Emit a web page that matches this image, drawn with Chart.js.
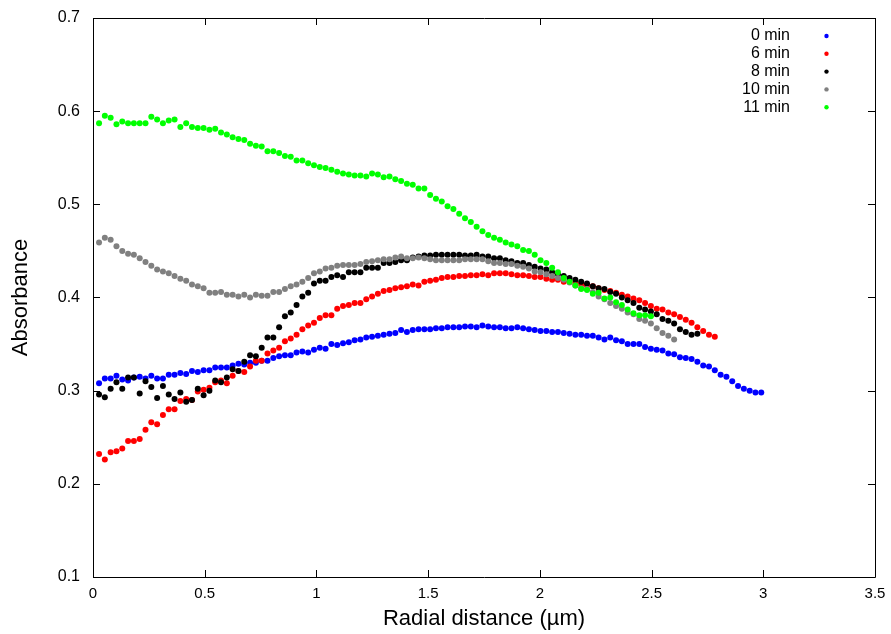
<!DOCTYPE html>
<html>
<head>
<meta charset="utf-8">
<script src="https://cdn.jsdelivr.net/npm/chart.js@4"></script>
<style>
html,body{margin:0;padding:0;background:#fff;}
#wrap{width:891px;height:634px;position:relative;}
</style>
</head>
<body>
<div id="wrap"><canvas id="c" width="891" height="634"></canvas></div>
<script>
// Radial distance sample positions (µm)
const radialDistance = [0.027,0.053,0.079,0.105,0.131,0.157,0.183,0.209,0.235,0.261,0.287,0.313,0.339,0.365,0.391,0.417,0.443,0.469,0.495,0.521,0.547,0.573,0.599,0.625,0.651,0.677,0.703,0.729,0.755,0.781,0.807,0.833,0.859,0.885,0.911,0.937,0.963,0.989,1.015,1.041,1.067,1.093,1.119,1.145,1.171,1.197,1.223,1.249,1.275,1.301,1.327,1.353,1.379,1.405,1.431,1.457,1.483,1.509,1.535,1.561,1.587,1.613,1.639,1.665,1.691,1.717,1.743,1.769,1.795,1.821,1.847,1.873,1.899,1.925,1.951,1.977,2.003,2.029,2.055,2.081,2.107,2.133,2.159,2.185,2.211,2.237,2.263,2.289,2.315,2.341,2.367,2.393,2.419,2.445,2.471,2.497,2.523,2.549,2.575,2.601,2.627,2.653,2.679,2.705,2.731,2.757,2.783,2.809,2.835,2.861,2.887,2.913,2.939,2.965,2.991];

const min0 = [0.308,0.313,0.313,0.316,0.312,0.311,0.314,0.315,0.313,0.316,0.313,0.313,0.317,0.317,0.319,0.318,0.321,0.320,0.322,0.322,0.325,0.325,0.325,0.327,0.329,0.328,0.330,0.330,0.332,0.332,0.335,0.337,0.338,0.338,0.341,0.342,0.341,0.344,0.346,0.345,0.350,0.349,0.351,
0.352,0.354,0.355,0.357,0.358,0.359,0.360,0.361,0.362,0.365,0.363,0.365,0.366,0.366,0.366,0.367,0.367,0.368,0.368,0.368,0.369,0.369,0.368,0.370,0.369,0.368,0.368,0.367,0.367,0.368,0.367,0.366,0.365,0.364,0.364,0.363,0.363,0.362,0.361,0.360,0.360,
0.359,0.359,0.357,0.355,0.357,0.354,0.353,0.350,0.350,0.350,0.347,0.345,0.344,0.343,0.340,0.339,0.336,0.335,0.334,0.331,0.327,0.326,0.322,0.317,0.315,0.310,0.305,0.302,0.300,0.298,0.298];

const min6 = [0.232,0.226,0.234,0.235,0.238,0.246,0.246,0.248,0.258,0.266,0.264,0.274,0.280,0.280,0.289,0.291,0.290,0.299,0.301,0.303,0.309,0.311,0.308,0.316,0.321,0.320,0.326,0.332,0.332,0.340,0.343,0.346,0.353,0.356,0.360,0.366,0.370,0.373,0.378,0.381,0.381,0.388,0.391,
0.392,0.394,0.394,0.398,0.401,0.404,0.407,0.408,0.410,0.411,0.412,0.414,0.413,0.417,0.418,0.419,0.421,0.422,0.422,0.423,0.423,0.424,0.424,0.425,0.424,0.426,0.426,0.426,0.425,0.424,0.424,0.423,0.422,0.422,0.420,0.419,0.419,0.417,0.417,0.415,0.414,0.413,0.412,
0.410,0.408,0.407,0.405,0.403,0.401,0.399,0.397,0.394,0.391,0.388,0.387,0.384,0.382,0.379,0.376,0.373,0.368,0.364,0.360,0.358];

const min8 = [0.296,0.293,0.302,0.309,0.302,0.314,0.314,0.297,0.310,0.304,0.292,0.305,0.296,0.291,0.298,0.288,0.290,0.302,0.295,0.300,0.311,0.309,0.314,0.323,0.321,0.331,0.338,0.337,0.346,0.357,0.357,0.368,0.380,0.384,0.392,0.401,0.405,0.415,0.418,0.418,0.422,0.424,0.422,
0.427,0.427,0.427,0.432,0.432,0.432,0.437,0.437,0.438,0.440,0.440,0.443,0.444,0.445,0.445,0.446,0.446,0.446,0.446,0.446,0.445,0.445,0.446,0.444,0.444,0.442,0.442,0.440,0.439,0.437,0.437,0.435,0.433,0.431,0.430,0.427,0.425,0.423,0.421,0.419,0.417,0.415,0.412,
0.410,0.409,0.406,0.404,0.400,0.397,0.394,0.389,0.387,0.385,0.382,0.377,0.375,0.372,0.366,0.363,0.360,0.361];

const min10 = [0.459,0.464,0.462,0.455,0.450,0.447,0.446,0.442,0.438,0.434,0.430,0.428,0.426,0.423,0.420,0.418,0.414,0.412,0.410,0.405,0.405,0.406,0.403,0.403,0.401,0.403,0.400,0.403,0.402,0.402,0.406,0.406,0.409,0.412,0.414,0.417,0.421,0.426,0.428,0.431,0.432,0.434,0.435,
0.435,0.435,0.436,0.438,0.439,0.440,0.441,0.441,0.443,0.444,0.442,0.442,0.443,0.442,0.441,0.440,0.440,0.440,0.440,0.440,0.441,0.441,0.441,0.441,0.439,0.437,0.437,0.436,0.436,0.434,0.433,0.431,0.428,0.427,0.425,0.423,0.421,0.419,0.416,0.413,0.410,0.409,0.406,
0.401,0.398,0.394,0.391,0.388,0.384,0.382,0.377,0.375,0.372,0.367,0.362,0.359,0.355];

const min11 = [0.587,0.595,0.593,0.586,0.589,0.587,0.587,0.587,0.587,0.594,0.591,0.587,0.590,0.591,0.583,0.587,0.583,0.582,0.582,0.580,0.581,0.577,0.575,0.572,0.570,0.569,0.565,0.563,0.562,0.557,0.557,0.555,0.552,0.551,0.547,0.547,0.544,0.542,0.540,0.539,0.537,0.535,0.533,
0.532,0.531,0.531,0.530,0.533,0.532,0.529,0.530,0.527,0.525,0.522,0.521,0.517,0.517,0.510,0.506,0.503,0.498,0.495,0.490,0.485,0.481,0.476,0.471,0.467,0.464,0.462,0.459,0.457,0.455,0.451,0.450,0.446,0.440,0.437,0.432,0.427,0.421,0.417,0.413,0.409,0.408,0.404,
0.405,0.399,0.400,0.395,0.392,0.387,0.383,0.381,0.381,0.380];

const seriesLabels = ['0 min','6 min','8 min','10 min','11 min'];
const seriesValues = [min0, min6, min8, min10, min11];
const seriesColors = ['#0000ff','#ff0000','#000000','#808080','#00ff00'];
const xTicks = [0,0.5,1,1.5,2,2.5,3,3.5];
const xTickLabels = ['0','0.5','1','1.5','2','2.5','3','3.5'];
const yTicks = [0.1,0.2,0.3,0.4,0.5,0.6,0.7];
const yTickLabels = ['0.1','0.2','0.3','0.4','0.5','0.6','0.7'];

Chart.defaults.font.family = "'Liberation Sans', Arial, sans-serif";
Chart.defaults.color = '#000';

// later series drawn on top (lower order is drawn last in Chart.js)
const datasets = seriesValues.map((vals, k) => ({
  label: seriesLabels[k],
  data: vals.map((v, i) => ({x: radialDistance[i], y: v})),
  backgroundColor: seriesColors[k],
  borderColor: seriesColors[k],
  borderWidth: 0,
  pointRadius: 3,
  pointHoverRadius: 3,
  showLine: false,
  order: seriesValues.length - k
}));

const framePlugin = {
  id: 'frame',
  afterDraw(chart) {
    const {ctx, chartArea: a, scales: {x, y}} = chart;
    ctx.save();
    ctx.strokeStyle = '#000';
    ctx.lineWidth = 1;
    ctx.beginPath();
    ctx.rect(Math.round(a.left) + 0.5, Math.round(a.top) + 0.5, Math.round(a.right - a.left), Math.round(a.bottom - a.top));
    const L = 7;
    xTicks.forEach(t => {
      const px = Math.round(x.getPixelForValue(t)) + 0.5;
      ctx.moveTo(px, a.bottom); ctx.lineTo(px, a.bottom - L);
      ctx.moveTo(px, a.top); ctx.lineTo(px, a.top + L);
    });
    yTicks.forEach(t => {
      const py = Math.round(y.getPixelForValue(t)) + 0.5;
      ctx.moveTo(a.left, py); ctx.lineTo(a.left + L, py);
      ctx.moveTo(a.right, py); ctx.lineTo(a.right - L, py);
    });
    ctx.stroke();
    // legend (gnuplot style: text right-aligned, marker to the right)
    ctx.font = "16px 'Liberation Sans', Arial, sans-serif";
    ctx.textAlign = 'right';
    ctx.textBaseline = 'middle';
    chart.data.datasets.forEach((ds, k) => {
      const ty = 36 + k * 17.8;
      ctx.fillStyle = '#000';
      ctx.fillText(ds.label, 790, ty);
      ctx.fillStyle = ds.backgroundColor;
      ctx.beginPath();
      ctx.arc(826.5, ty, 2.2, 0, Math.PI * 2);
      ctx.fill();
    });
    ctx.restore();
  }
};

new Chart(document.getElementById('c'), {
  type: 'scatter',
  data: {datasets},
  options: {
    responsive: false,
    animation: false,
    events: [],
    layout: {padding: {top: 18, right: 16, left: 0, bottom: 0}},
    plugins: {legend: {display: false}, tooltip: {enabled: false}},
    scales: {
      x: {
        type: 'linear', min: 0, max: 3.5,
        afterBuildTicks(s) { s.ticks = xTicks.map(v => ({value: v})); },
        afterFit(s) { s.height = 57; s.paddingLeft = 0; s.paddingRight = 0; },
        grid: {display: false, drawTicks: false},
        border: {display: false},
        ticks: {padding: 8, font: {size: 15}, color: '#000', callback: (v, i) => xTickLabels[i]},
        title: {display: true, text: 'Radial distance (\u00b5m)', font: {size: 22}, padding: {top: 0, bottom: 2}, color: '#000'}
      },
      y: {
        type: 'linear', min: 0.1, max: 0.7,
        afterBuildTicks(s) { s.ticks = yTicks.map(v => ({value: v})); },
        afterFit(s) { s.width = 93; s.paddingTop = 0; s.paddingBottom = 0; },
        grid: {display: false, drawTicks: false},
        border: {display: false},
        ticks: {padding: 13, font: {size: 16}, color: '#000', callback: (v, i) => yTickLabels[i]},
        title: {display: true, text: 'Absorbance', font: {size: 22}, padding: {top: 8, bottom: 0}, color: '#000'}
      }
    }
  },
  plugins: [framePlugin]
});
</script>
</body>
</html>
